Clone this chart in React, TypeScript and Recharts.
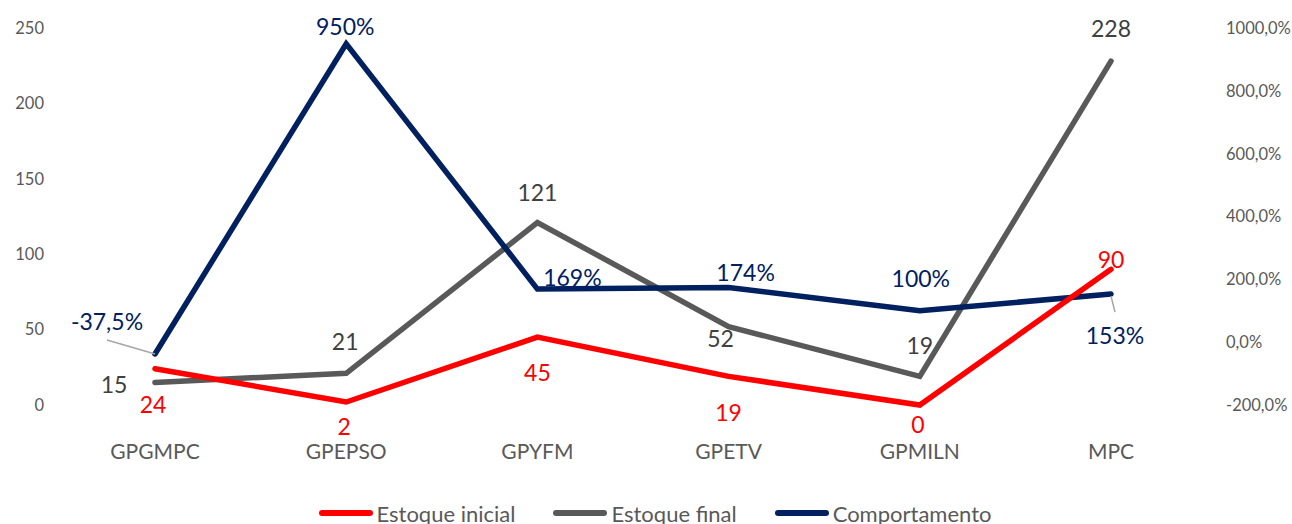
import React from 'react';
import { LineChart, Line, XAxis, YAxis, Legend } from 'recharts';

// chart values
const categories = ['GPGMPC', 'GPEPSO', 'GPYFM', 'GPETV', 'GPMILN', 'MPC'];
const estoqueInicial = [24, 2, 45, 19, 0, 90];
const estoqueFinal = [15, 21, 121, 52, 19, 228];
const comportamento = [-37.5, 950, 169, 174, 100, 153];
const comportamentoLabels = ['-37,5%', '950%', '169%', '174%', '100%', '153%'];
const leftTicks = [0, 50, 100, 150, 200, 250];
const rightTicks = [-200, 0, 200, 400, 600, 800, 1000];

const data = categories.map((name, i) => ({
    name,
    inicial: estoqueInicial[i],
    final: estoqueFinal[i],
    comp: comportamento[i],
}));

const RED = '#FF0000';
const GRAY = '#595959';
const NAVY = '#002060';
const FONT = 'Lato, "Open Sans", sans-serif';

// label offsets (px) from each point, like Excel's manual placement
const redOffsets = [[-2, 35], [-2, 24], [0, 35], [0, 36], [-2, 19], [0, -10]];
const grayOffsets = [[-41, 2], [-1, -32], [0, -31], [-8, 11], [0, -31], [0, -33]];
const navyOffsets = [[-48, -33], [-1, -18], [35, -12], [17, -16], [1, -33], [4, 41]];

const makeLabel = (offsets: number[][], color: string, texts?: string[]) => (props: any) => {
    const { x, y, value, index } = props;
    if (x == null || y == null) return null;
    const [dx, dy] = offsets[index] || [0, -20];
    const text = texts ? texts[index] : String(value);
    return (
        <g key={`lbl-${color}-${index}`}>
            {texts && index === 0 && (
                <line x1={x - 48} y1={y - 14} x2={x} y2={y} stroke="#A6A6A6" strokeWidth={1.5} />
            )}
            {texts && index === 5 && (
                <line x1={x} y1={y + 2} x2={x + 4} y2={y + 18} stroke="#A6A6A6" strokeWidth={1.5} />
            )}
            <text
                x={x + dx}
                y={y + dy}
                textAnchor="middle"
                dominantBaseline="central"
                fill={color}
                fontSize={23}
                fontFamily={FONT}
            >
                {text}
            </text>
        </g>
    );
};

const legendItems = [
    { label: 'Estoque inicial', color: RED },
    { label: 'Estoque final', color: GRAY },
    { label: 'Comportamento', color: NAVY },
];

const renderLegend = () => (
    <div
        style={{
            display: 'flex',
            justifyContent: 'center',
            alignItems: 'center',
            height: 22,
            paddingLeft: 18,
            fontFamily: FONT,
            fontSize: 22,
            color: GRAY,
        }}
    >
        {legendItems.map((item) => (
            <div key={item.label} style={{ display: 'flex', alignItems: 'center', margin: '0 19px' }}>
                <span
                    style={{
                        display: 'inline-block',
                        width: 54,
                        height: 6,
                        borderRadius: 3,
                        background: item.color,
                        marginRight: 4,
                    }}
                />
                <span>{item.label}</span>
            </div>
        ))}
    </div>
);

const formatPct = (v: number) => v.toFixed(1).replace('.', ',') + '%';

export default function App() {
    return (
        <div style={{ position: 'absolute', left: 0, top: 0, width: 1292, height: 524, background: '#fff' }}>
            <LineChart width={1292} height={524} data={data} margin={{ top: 28, right: 0, bottom: 0, left: 0 }}>
                <XAxis
                    dataKey="name"
                    axisLine={false}
                    tickLine={false}
                    height={97}
                    tickMargin={33}
                    padding={{ left: 95, right: 95 }}
                    tick={{ fill: GRAY, fontSize: 21, fontFamily: FONT }}
                    interval={0}
                />
                <YAxis
                    yAxisId="left"
                    domain={[0, 250]}
                    ticks={leftTicks}
                    width={60}
                    axisLine={false}
                    tickLine={false}
                    tickMargin={10}
                    tick={{ fill: GRAY, fontSize: 16.5, fontFamily: FONT }}
                />
                <YAxis
                    yAxisId="right"
                    orientation="right"
                    domain={[-200, 1000]}
                    ticks={rightTicks}
                    width={86}
                    axisLine={false}
                    tickLine={false}
                    tickMargin={14}
                    tickFormatter={formatPct}
                    tick={{ fill: GRAY, fontSize: 16.5, fontFamily: FONT }}
                />
                <Legend verticalAlign="bottom" content={renderLegend} />
                <Line
                    yAxisId="left"
                    dataKey="final"
                    name="Estoque final"
                    stroke={GRAY}
                    strokeWidth={5.5}
                    strokeLinecap="round"
                    dot={false}
                    activeDot={false}
                    isAnimationActive={false}
                    label={makeLabel(grayOffsets, '#404040')}
                />
                <Line
                    yAxisId="right"
                    dataKey="comp"
                    name="Comportamento"
                    stroke={NAVY}
                    strokeWidth={5.5}
                    strokeLinecap="round"
                    dot={false}
                    activeDot={false}
                    isAnimationActive={false}
                    label={makeLabel(navyOffsets, NAVY, comportamentoLabels)}
                />
                <Line
                    yAxisId="left"
                    dataKey="inicial"
                    name="Estoque inicial"
                    stroke={RED}
                    strokeWidth={5.5}
                    strokeLinecap="round"
                    dot={false}
                    activeDot={false}
                    isAnimationActive={false}
                    label={makeLabel(redOffsets, RED)}
                />
            </LineChart>
        </div>
    );
}
